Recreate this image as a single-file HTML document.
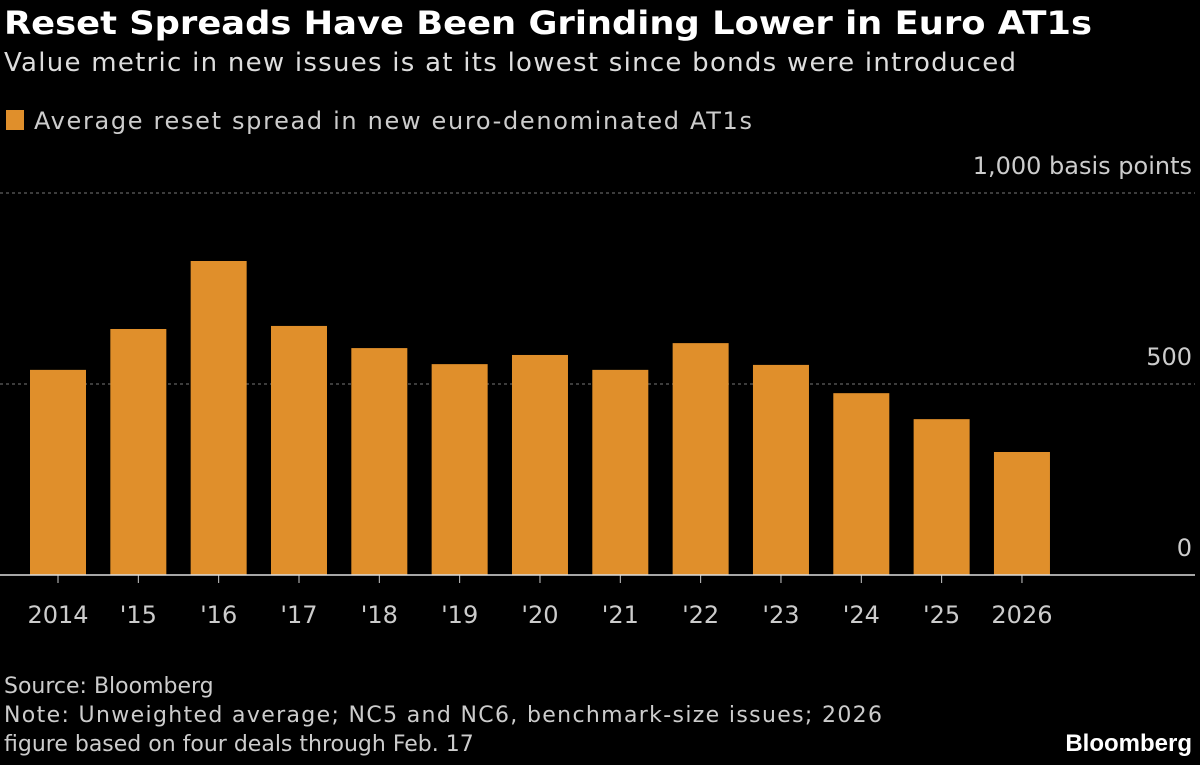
<!DOCTYPE html>
<html><head><meta charset="utf-8"><style>
body{margin:0;background:#000;width:1200px;height:760px;overflow:hidden;font-family:"Liberation Sans","DejaVu Sans",sans-serif;color:#fff}
</style></head><body>
<svg width="1200" height="760" xmlns="http://www.w3.org/2000/svg">
<text x="4" y="34" font-size="32" font-weight="bold" fill="#fff" font-family="DejaVu Sans, sans-serif" textLength="1088" lengthAdjust="spacingAndGlyphs">Reset Spreads Have Been Grinding Lower in Euro AT1s</text>
<text x="4" y="71" font-size="26" fill="#ddd" font-family="DejaVu Sans, sans-serif" textLength="1012">Value metric in new issues is at its lowest since bonds were introduced</text>
<rect x="6" y="110" width="18" height="20" fill="#e08f2b"/>
<text x="34" y="129" font-size="24" fill="#ccc" font-family="DejaVu Sans, sans-serif" textLength="718">Average reset spread in new euro-denominated AT1s</text>
<g id="grid"></g><g id="bars"></g><g id="xlabels"></g>
<text x="4" y="693" font-size="22" fill="#ccc" font-family="DejaVu Sans, sans-serif">Source: Bloomberg</text>
<text x="4" y="722" font-size="22" fill="#ccc" font-family="DejaVu Sans, sans-serif" textLength="878">Note: Unweighted average; NC5 and NC6, benchmark-size issues; 2026</text>
<text x="4" y="751" font-size="22" fill="#ccc" font-family="DejaVu Sans, sans-serif">figure based on four deals through Feb. 17</text>
<text x="1192" y="751" font-size="24" font-weight="bold" text-anchor="end" fill="#fff">Bloomberg</text>
</svg>
<script>
const categories=["2014","'15","'16","'17","'18","'19","'20","'21","'22","'23","'24","'25","2026"];
const values=[537,644,822,652,594,552,576,537,607,550,476,408,322];
const yTicks=[0,500,1000];
const yTickLabels=["0","500","1,000 basis points"];
const NS="http://www.w3.org/2000/svg";
function y(v){return 575-v*0.382;}
function x(i){return 30+i*80.33;}
const grid=document.getElementById('grid'),bars=document.getElementById('bars'),xl=document.getElementById('xlabels');
yTicks.forEach((t,i)=>{
  if(t!==0){const l=document.createElementNS(NS,'line');
  l.setAttribute('x1',0);l.setAttribute('x2',1195);l.setAttribute('y1',y(t));l.setAttribute('y2',y(t));
  l.setAttribute('stroke','#777');l.setAttribute('stroke-dasharray','3,3');
  
  
  grid.appendChild(l);}
  const tx=document.createElementNS(NS,'text');
  tx.setAttribute('x',1192);tx.setAttribute('y',y(t)-19);tx.setAttribute('text-anchor','end');
  tx.setAttribute('font-size','24');tx.setAttribute('fill','#ccc');tx.setAttribute('font-family','DejaVu Sans, sans-serif');
  tx.textContent=yTickLabels[i];
  
  
  grid.appendChild(tx);
});
values.forEach((v,i)=>{
  const r=document.createElementNS(NS,'rect');
  r.setAttribute('x',x(i));r.setAttribute('width',56);r.setAttribute('y',y(v));r.setAttribute('height',y(0)-y(v));
  r.setAttribute('fill','#e08f2b');
  
  
  bars.appendChild(r);
  const t=document.createElementNS(NS,'text');
  t.setAttribute('x',x(i)+28);t.setAttribute('y',623);t.setAttribute('text-anchor','middle');
  t.setAttribute('font-size','24');t.setAttribute('fill','#ccc');t.setAttribute('font-family','DejaVu Sans, sans-serif');
  t.textContent=categories[i];
  
  
  xl.appendChild(t);
  const tk=document.createElementNS(NS,'line');
  tk.setAttribute('x1',x(i)+28);tk.setAttribute('x2',x(i)+28);tk.setAttribute('y1',575);tk.setAttribute('y2',583);
  tk.setAttribute('stroke','#ccc');
  
  
  xl.appendChild(tk);
});
const b=document.createElementNS(NS,'line');
b.setAttribute('x1',0);b.setAttribute('x2',1195);b.setAttribute('y1',575);b.setAttribute('y2',575);b.setAttribute('stroke','#ddd');b.setAttribute('stroke-width','1.5');


xl.appendChild(b);
</script>
</body></html>
